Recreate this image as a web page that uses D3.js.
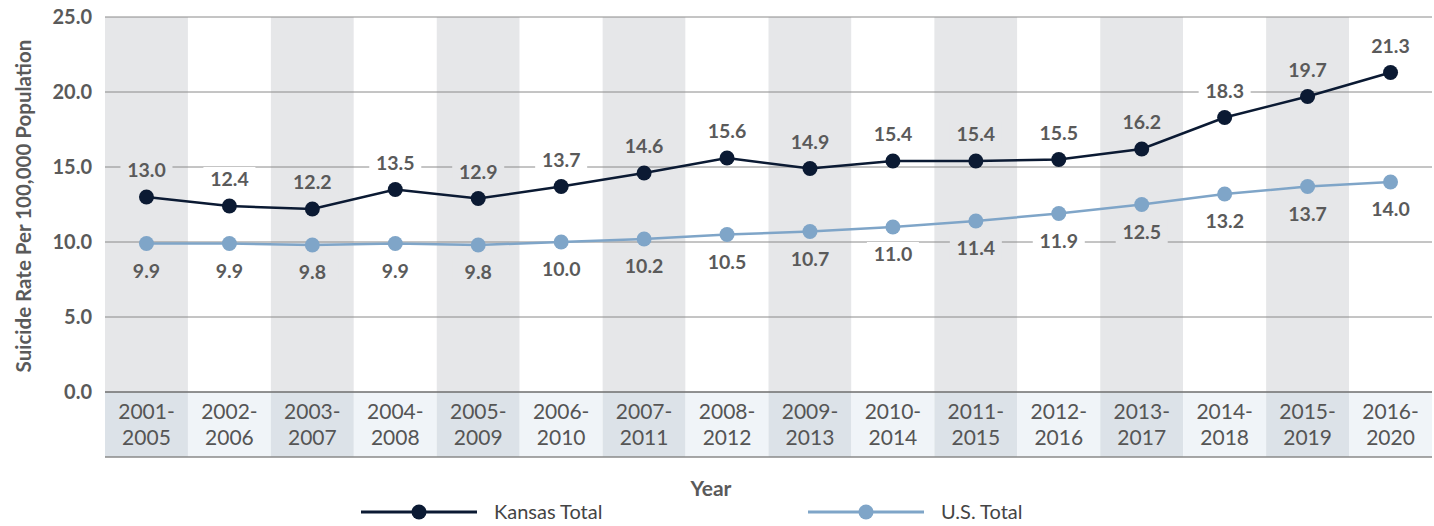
<!DOCTYPE html>
<html>
<head>
<meta charset="utf-8">
<script src="https://cdn.jsdelivr.net/npm/d3@7"></script>
<style>
  body { margin: 0; background: #fff; }
  svg { font-family: Lato, "Open Sans", sans-serif; }
</style>
</head>
<body>
<svg id="chart" width="1434" height="526"></svg>
<script>
var periods = ["2001-2005", "2002-2006", "2003-2007", "2004-2008", "2005-2009", "2006-2010",
               "2007-2011", "2008-2012", "2009-2013", "2010-2014", "2011-2015", "2012-2016",
               "2013-2017", "2014-2018", "2015-2019", "2016-2020"];
var kansasTotal = [13.0, 12.4, 12.2, 13.5, 12.9, 13.7, 14.6, 15.6, 14.9, 15.4, 15.4, 15.5, 16.2, 18.3, 19.7, 21.3];
var usTotal = [9.9, 9.9, 9.8, 9.9, 9.8, 10.0, 10.2, 10.5, 10.7, 11.0, 11.4, 11.9, 12.5, 13.2, 13.7, 14.0];
var yTicks = [0, 5, 10, 15, 20, 25];

function drawChart() {
  var svg = d3.select("#chart"),
      plotLeft = 105, plotRight = 1432, plotTop = 17, plotBottom = 392, catBottom = 457;

  var x = d3.scaleBand().domain(periods).range([plotLeft, plotRight]).padding(0),
      y = d3.scaleLinear().domain([0, 25]).range([plotBottom, plotTop]);

  var bandColor = function(i) { return i % 2 === 0 ? "#e6e7e9" : "#ffffff"; };

  // alternating column shading
  svg.selectAll(".band")
     .data(periods)
     .enter().append("rect")
     .attr("x", function(d) { return x(d); })
     .attr("y", plotTop)
     .attr("width", x.bandwidth())
     .attr("height", plotBottom - plotTop)
     .style("fill", function(d, i) { return bandColor(i); });

  // category area under the axis
  svg.selectAll(".catcell")
     .data(periods)
     .enter().append("rect")
     .attr("x", function(d) { return x(d); })
     .attr("y", plotBottom)
     .attr("width", x.bandwidth())
     .attr("height", catBottom - plotBottom)
     .style("fill", function(d, i) { return i % 2 === 0 ? "#dce2e8" : "#f0f4f8"; });

  // gridlines
  svg.selectAll(".grid")
     .data(yTicks)
     .enter().append("line")
     .attr("x1", plotLeft).attr("x2", plotRight)
     .attr("y1", function(d) { return y(d); })
     .attr("y2", function(d) { return y(d); })
     .style("stroke", function(d) { return d === 0 ? "#6e6e6e" : "#8a8a8a"; })
     .style("stroke-width", function(d) { return d === 0 ? 1.5 : 1; });

  svg.append("line")
     .attr("x1", plotLeft).attr("x2", plotRight)
     .attr("y1", catBottom).attr("y2", catBottom)
     .style("stroke", "#8a8a8a").style("stroke-width", 1.5);

  // y tick labels
  svg.selectAll(".ytick")
     .data(yTicks)
     .enter().append("text")
     .attr("x", 92)
     .attr("y", function(d) { return y(d); })
     .attr("dy", "0.35em")
     .attr("text-anchor", "end")
     .attr("font-size", "20px")
     .attr("font-weight", "bold")
     .style("fill", "#5a5a5a")
     .text(function(d) { return d3.format(".1f")(d); });

  // y axis title
  svg.append("text")
     .attr("transform", "translate(31,206) rotate(-90)")
     .attr("text-anchor", "middle")
     .attr("font-size", "20.5px")
     .attr("font-weight", "bold")
     .style("fill", "#5a5a5a")
     .text("Suicide Rate Per 100,000 Population");

  // category labels
  var cat = svg.selectAll(".cat")
     .data(periods)
     .enter().append("text")
     .attr("text-anchor", "middle")
     .attr("font-size", "21px")
     .style("fill", "#555")
     .attr("transform", function(d) { return "translate(" + (x(d) + x.bandwidth() / 2) + ",0)"; });
  cat.append("tspan").attr("x", 0).attr("y", 419).text(function(d) { return d.split("-")[0] + "-"; });
  cat.append("tspan").attr("x", 0).attr("y", 445).text(function(d) { return d.split("-")[1]; });

  // x axis title
  svg.append("text")
     .attr("x", 711).attr("y", 496)
     .attr("text-anchor", "middle")
     .attr("font-size", "21px")
     .attr("font-weight", "bold")
     .style("fill", "#5a5a5a")
     .text("Year");

  var series = [
    { name: "Kansas Total", values: kansasTotal, color: "#0b1a33", above: true },
    { name: "U.S. Total", values: usTotal, color: "#7fa5c8", above: false }
  ];

  var line = d3.line()
    .x(function(d, i) { return x(periods[i]) + x.bandwidth() / 2; })
    .y(function(d) { return y(d); });

  // value labels; backing box takes the column colour so gridlines break round the text
  series.forEach(function(s) {
    var lab = svg.append("g").selectAll(".lab")
       .data(s.values)
       .enter().append("g")
       .attr("transform", function(d, i) {
          var cy = y(d) + (s.above ? -27 : 27);
          return "translate(" + (x(periods[i]) + x.bandwidth() / 2) + "," + cy + ")";
       });
    lab.append("rect")
       .attr("x", -26).attr("y", -12)
       .attr("width", 52).attr("height", 24)
       .style("fill", function(d, i) { return bandColor(i); });
    lab.append("text")
       .attr("text-anchor", "middle")
       .attr("dy", "0.36em")
       .attr("font-size", "19.5px")
       .attr("font-weight", "bold")
       .style("fill", "#5a5a5a")
       .text(function(d) { return d3.format(".1f")(d); });
  });

  series.forEach(function(s) {
    var g = svg.append("g");
    g.append("path")
     .datum(s.values)
     .attr("d", line)
     .style("fill", "none")
     .style("stroke", s.color)
     .style("stroke-width", 2.5);
    g.selectAll("circle")
     .data(s.values)
     .enter().append("circle")
     .attr("cx", function(d, i) { return x(periods[i]) + x.bandwidth() / 2; })
     .attr("cy", function(d) { return y(d); })
     .attr("r", 7.5)
     .style("fill", s.color);
  });

  // legend
  var legend = svg.selectAll(".legend")
     .data(series)
     .enter().append("g")
     .attr("transform", function(d, i) { return "translate(" + (361 + i * 447) + ",512)"; });
  legend.append("line")
     .attr("x1", 0).attr("x2", 116)
     .style("stroke", function(d) { return d.color; })
     .style("stroke-width", 3);
  legend.append("circle")
     .attr("cx", 58).attr("r", 7.5)
     .style("fill", function(d) { return d.color; });
  legend.append("text")
     .attr("x", 133).attr("dy", "0.35em")
     .attr("font-size", "20px")
     .style("fill", "#444")
     .text(function(d) { return d.name; });
}

drawChart();
</script>
</body>
</html>
